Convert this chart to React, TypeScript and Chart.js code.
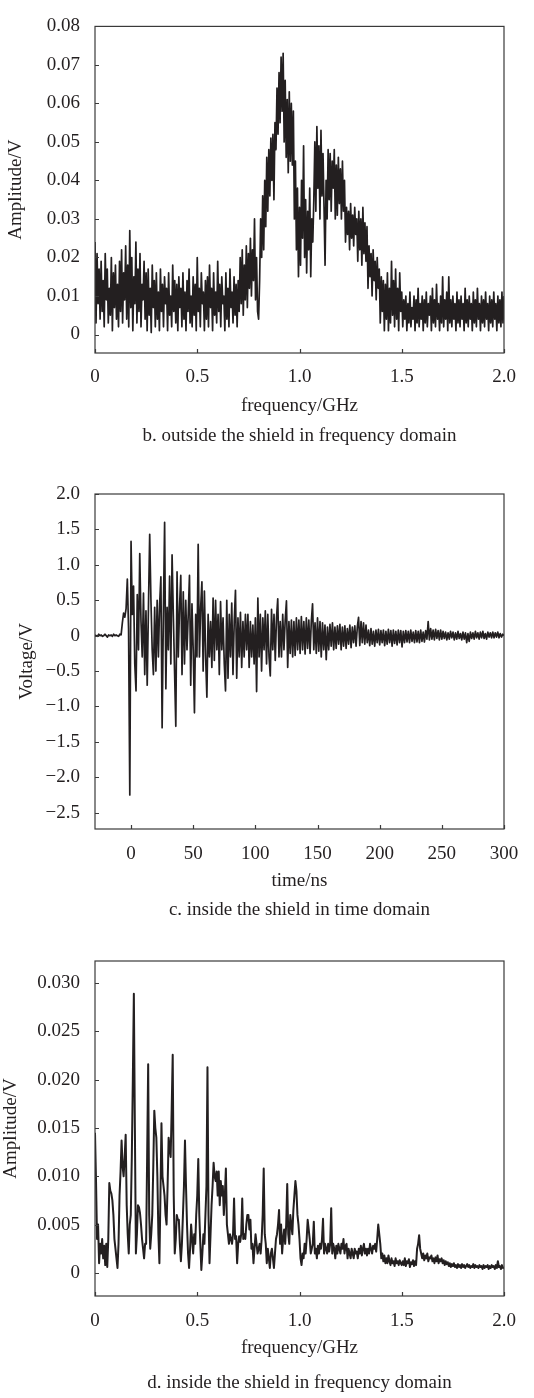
import React, { useEffect, useRef } from 'react';
import { Chart, registerables } from 'chart.js';

Chart.register(...registerables);

const FONT_FAMILY = '"Liberation Serif", "Times New Roman", serif';
const FONT_SIZE = 19;
const LINE_HEIGHT = 1.2;
const TEXT_COLOR = '#231f20';
const LINE_COLOR = '#231f20';

// ---------- Panel b: outside the shield, frequency domain ----------
const bFreqStepGHz = 0.005;
const bAmplitude_mV = [
  24, 3, 21, 8, 17,
  4, 19, 6, 14, 2, 21, 9, 17, 3, 12, 5, 20, 1, 16, 7, 18, 4, 13, 2, 19,
  6, 22, 3, 16, 9, 23, 4, 18, 2, 27, 7,
  20, 1, 15, 8, 24, 3, 17, 6, 21, 2, 13, 9, 19, 4, 16,
  1, 17, 5, 12, 0.5, 18, 7, 14, 2, 16, 4, 11, 1, 17, 6, 13, 2, 15, 8, 12, 1, 16, 5, 10, 2, 18, 6, 14, 3, 13,
  1, 15, 7, 12, 2, 16, 4, 11, 1, 14, 6, 17, 3, 10, 2, 15, 5, 13, 1, 20,
  6, 12, 2, 16, 8, 11, 1, 14, 4, 15, 2, 18, 7, 12, 1, 16, 5, 11, 3, 19,
  6, 13, 2, 15, 8, 10, 1, 16, 4, 12, 2, 17, 7, 11, 3, 15, 5, 13, 2, 14,
  6, 20, 8, 22, 5, 18, 9, 23, 7, 21,
  12, 25, 10, 22, 14, 30, 9, 20, 6, 4,
  14, 30, 20, 36, 22, 40, 28, 46, 32, 48,
  36, 51, 40, 52, 35, 55,
  48, 64, 52, 68, 55, 72, 58, 73,
  50, 66, 46, 61, 42, 63, 45, 60,
  44, 58, 30, 45, 22, 38, 15, 33,
  18, 40, 25, 49, 20, 35,
  16, 32, 22, 38, 15, 30, 24,
  35, 50, 32, 54, 38, 49, 30, 53, 36, 47, 33,
  18, 40, 30, 48,
  35, 47, 32, 45, 38, 48, 30, 44,
  31, 46, 34, 43, 30, 45, 32, 40,
  24, 33, 26, 32, 22, 34, 25, 31, 23, 33, 26, 30,
  19, 32, 22, 30, 18, 33, 21, 29, 19, 28,
  12, 23, 15, 21, 10, 22, 14, 19, 9, 20, 12, 17,
  3, 15, 6, 14, 1, 13, 4, 16, 1, 12,
  3, 19, 5, 14, 2, 17, 4, 12, 1, 16, 6, 11,
  2, 9, 4, 10, 1, 8, 3, 11, 2, 7,
  4, 10, 1, 9, 3, 12, 2, 8, 4, 10,
  1, 9, 3, 11, 2, 8, 5, 10, 1, 12,
  3, 9, 2, 13, 4, 8, 1, 10, 3, 15,
  2, 9, 4, 11, 1, 15, 3, 9, 2, 10,
  4, 8, 1, 11, 3, 9, 2, 10, 4, 8,
  1, 12, 3, 9, 2, 10, 4, 8, 1, 11,
  3, 9, 2, 12, 4, 8, 1, 10, 3, 9,
  2, 11, 4, 8, 1, 10, 3, 9, 2, 11,
  4, 8, 1, 10, 3, 9, 2, 11, 3, 10,
];
const bXTicks = [0, 0.5, 1.0, 1.5, 2.0];
const bXTickLabels = ['0', '0.5', '1.0', '1.5', '2.0'];
const bYTicks = [0, 0.01, 0.02, 0.03, 0.04, 0.05, 0.06, 0.07, 0.08];
const bYTickLabels = ['0', '0.01', '0.02', '0.03', '0.04', '0.05', '0.06', '0.07', '0.08'];

// ---------- Panel c: inside the shield, time domain ----------
const cTimeStartNs = -29;
const cTimeStepNs = 1;
const cVoltage_V = [
  0.01, 0, -0.01, 0.02, 0, 0.01, -0.01, 0, 0.02, 0,
  -0.02, 0.01, 0, 0.01, -0.01, 0.02, 0, 0.01, 0, -0.01,
  0.02, 0.01, 0.18, 0.32, 0.26, 0.38, 0.8, 0.1, -2.25, 1.33,
  0.3, 0.7, -0.4, -0.78, 0.58, -0.2, 1.16, 0.2, -0.3, 0.6,
  -0.55, 0.35, -0.7, 0.4, 1.43, 0.5, -0.2, -0.55, 0.4, -0.5,
  0.5, -0.3, 0.45, 0.83, -1.3, 0.3, 1.6, -0.75, 0.4, -0.2,
  0.84, -0.4, 1.14, 0.3, -0.5, -1.28, 0.9, -0.3, 0.4, 0.85,
  -0.55, 0.62, -0.4, 0.5, -0.2, 0.3, 0.85, -0.7, 0.45, -0.2,
  -1.09, 0.3, -0.3, 1.29, -0.3, 0.4, 0.76, -0.5, 0.63, -0.3,
  -0.87, 0.3, -0.3, 0.2, -0.45, 0.53, -0.35, 0.5, -0.2, 0.3,
  -0.55, 0.48, -0.2, 0.25, -0.4, -0.78, 0.5, -0.6, 0.3, -0.3,
  0.46, -0.55, 0.2, 0.64, -0.6, 0.25, -0.3, 0.33, -0.45, 0.2,
  -0.3, 0.3, -0.2, 0.3, -0.45, 0.2, -0.3, 0.15, -0.4, 0.25,
  -0.79, 0.53, -0.3, 0.3, -0.5, 0.25, -0.2, 0.35, -0.4, 0.3,
  -0.3, -0.57, 0.37, -0.2, 0.3, -0.35, 0.25, 0.52, -0.3, 0.2,
  -0.3, 0.3, -0.2, 0.22, 0.49, -0.45, 0.2, -0.25, 0.22, -0.3,
  0.2, -0.28, 0.25, -0.2, 0.22, -0.25, 0.27, -0.2, 0.2, -0.26,
  0.25, -0.18, 0.22, -0.25, 0.2, 0.45, -0.2, 0.18, -0.25, 0.25,
  -0.22, 0.2, -0.3, 0.18, -0.2, 0.15, -0.34, 0.12, -0.2, 0.16,
  -0.15, 0.18, -0.2, 0.12, -0.18, 0.14, -0.12, 0.16, -0.2, 0.12,
  -0.15, 0.14, -0.18, 0.1, -0.12, 0.15, -0.17, 0.12, -0.1, 0.14,
  -0.15, 0.12, 0.26, -0.14, 0.2, -0.1, 0.18, -0.12, 0.15, -0.1,
  0.08, -0.14, 0.1, -0.12, 0.06, -0.15, 0.08, -0.1, 0.09, -0.13,
  0.07, -0.1, 0.08, -0.14, 0.06, -0.12, 0.09, -0.1, 0.07, -0.15,
  0.08, -0.11, 0.06, -0.13, 0.08, -0.1, 0.07, -0.16, 0.06, -0.1,
  0.07, -0.09, 0.06, -0.1, 0.08, -0.08, 0.05, -0.1, 0.07, -0.09,
  0.06, -0.1, 0.08, -0.08, 0.05, -0.09, 0.07, -0.05, 0.2, -0.06,
  0.1, -0.05, 0.08, -0.06, 0.09, -0.04, 0.07, -0.06, 0.08, -0.05,
  0.06, -0.04, 0.05, -0.06, 0.04, -0.05, 0.06, -0.03, 0.05, -0.06,
  0.04, -0.05, 0.06, -0.04, 0.03, -0.06, 0.05, -0.05, 0.04, -0.1,
  0.03, -0.08, 0.05, -0.04, 0.04, -0.05, 0.06, -0.03, 0.04, -0.05,
  0.05, -0.03, 0.06, -0.04, 0.03, -0.05, 0.05, -0.02, 0.04, -0.03,
  0.05, -0.03, 0.04, -0.02, 0.05, -0.03, 0.03, -0.02, 0.02, 0,
];
const cXTicks = [0, 50, 100, 150, 200, 250, 300];
const cXTickLabels = ['0', '50', '100', '150', '200', '250', '300'];
const cYTicks = [-2.5, -2.0, -1.5, -1.0, -0.5, 0, 0.5, 1.0, 1.5, 2.0];
const cYTickLabels = ['\u22122.5', '\u22122.0', '\u22121.5', '\u22121.0', '\u22120.5', '0', '0.5', '1.0', '1.5', '2.0'];

// ---------- Panel d: inside the shield, frequency domain ----------
const dFreqStepGHz = 0.005;
const dAmplitude_mV = [
  14.5, 9.5, 3.5, 5, 1, 3, 2, 3.5, 1.5, 2.8,
  0.8, 3, 0.6, 3.5, 9.3, 8.5, 8.2, 7.5, 6, 3.5,
  2.5, 1.5, 0.5, 3, 8, 10.5, 13.7, 11, 10, 12,
  14.3, 7, 4, 2, 5, 6, 12, 20, 28.9, 15,
  2, 4, 7, 6.8, 6.2, 5, 3.5, 2.5, 1.5, 3,
  3, 12, 21.6, 6, 2.5, 4, 6, 11, 16.8, 15,
  14, 10, 4, 1, 8, 15.5, 10, 9, 8, 6,
  5, 9, 14, 13, 12, 17, 22.6, 8, 2, 3.5,
  6, 5.5, 5.5, 3, 1.2, 3, 6, 9, 13.7, 9,
  5, 2, 0.5, 2.5, 5, 3.5, 2, 4, 3, 6,
  8, 11.8, 6, 3, 0.3, 2, 4, 3, 6, 9,
  21.3, 6, 1, 4, 7, 9, 11.4, 10, 9.5, 10.5,
  8, 10.5, 7, 9.5, 8, 9, 6, 8, 10.8, 5,
  4, 3, 4, 3.5, 3, 4, 7.7, 3.5, 3.8, 1,
  3, 3.8, 3.2, 4, 7.7, 3.5, 4, 3.5, 5, 6,
  6, 4.5, 5.5, 2.5, 3, 1, 2.5, 4, 3, 2,
  2.5, 3, 2, 3.5, 6, 10.8, 4, 3, 1, 2.5,
  1.5, 0.5, 2, 2.5, 1.5, 0.5, 2, 3.5, 4, 5,
  6.5, 3, 5, 2, 3.5, 4.5, 3, 5, 9.2, 4,
  3, 6, 5, 4, 6.5, 8, 9.5, 8.5, 6, 5,
  3.5, 1.5, 0.8, 2, 1.5, 3, 2, 3.5, 5.5, 4.5,
  3.5, 2, 2.5, 3, 5.3, 2, 2.5, 1.5, 2.8, 2,
  3, 2.5, 3.5, 5.6, 2, 3, 2.5, 2, 3, 2.2,
  3, 6.7, 2, 3, 2.5, 1.5, 2.8, 2, 3, 2.5,
  2, 3, 2.5, 3.5, 2, 2.8, 3, 1.5, 2.5, 2,
  1.5, 2.5, 2, 1.5, 2.5, 2, 2.2, 1.5, 2.5, 2,
  2.8, 1.8, 2.5, 3, 2, 2.5, 1.8, 2.5, 2, 3,
  2.5, 2, 2.8, 2.5, 3, 2.2, 3.5, 5, 4, 3,
  1.5, 2, 1.2, 1.8, 1, 1.5, 1, 1.8, 1.2, 0.8,
  1.5, 1, 1.2, 0.7, 1.5, 1, 1.2, 0.8, 1.3, 1,
  0.8, 1.2, 0.8, 1.5, 0.7, 1.2, 1, 1.4, 0.6, 1.1,
  0.9, 1.3, 0.7, 1.2, 0.8, 2.5, 3, 3.9, 2.5, 2,
  1.5, 2, 1.3, 1.8, 1.5, 2, 1.2, 1.6, 1.5, 1.8,
  1.2, 1.5, 1, 1.6, 1.2, 1.8, 1, 1.4, 1.2, 1.5,
  1, 1.3, 0.8, 1.2, 0.9, 1.1, 0.7, 1, 0.6, 0.9,
  0.7, 1, 0.6, 0.8, 0.5, 0.9, 0.6, 0.8, 0.5, 0.9,
  0.6, 0.8, 0.5, 0.7, 0.9, 0.6, 0.8, 0.5, 0.7, 0.6,
  0.9, 0.5, 0.8, 0.6, 0.7, 0.5, 0.8, 0.6, 0.7, 0.4,
  0.8, 0.5, 0.7, 0.6, 0.8, 0.4, 0.7, 0.5, 0.8, 0.6,
  0.7, 0.4, 0.8, 0.5, 1.2, 0.6, 0.7, 0.4, 0.8, 0.5,
  0.6,
];
const dXTicks = [0, 0.5, 1.0, 1.5, 2.0];
const dXTickLabels = ['0', '0.5', '1.0', '1.5', '2.0'];
const dYTicks = [0, 0.005, 0.01, 0.015, 0.02, 0.025, 0.03];
const dYTickLabels = ['0', '0.005', '0.010', '0.015', '0.020', '0.025', '0.030'];

// ---------- chart building ----------
type Pt = { x: number; y: number };

type PanelSpec = {
  id: string;
  height: number;
  plotTop: number;
  plotBottom: number;
  tickLabelY: number;
  xTitleY: number;
  captionY: number;
  yTitlePad: number;
  lineWidth: number;
  points: Pt[];
  xMin: number;
  xMax: number;
  yMin: number;
  yMax: number;
  xTicks: number[];
  xTickLabels: string[];
  yTicks: number[];
  yTickLabels: string[];
  xTitle: string;
  yTitle: string;
  caption: string;
};

const framePlugin = {
  id: 'frameAndInnerTicks',
  afterDraw(chart: any) {
    const { ctx, chartArea: a, scales } = chart;
    ctx.save();
    ctx.strokeStyle = '#3a3a3a';
    ctx.lineWidth = 1.2;
    ctx.strokeRect(a.left, a.top, a.right - a.left, a.bottom - a.top);
    ctx.beginPath();
    const xs = scales.x;
    xs.ticks.forEach((t: any) => {
      const px = Math.round(xs.getPixelForValue(t.value)) + 0.5;
      ctx.moveTo(px, a.bottom);
      ctx.lineTo(px, a.bottom - 4);
    });
    const ys = scales.y;
    ys.ticks.forEach((t: any) => {
      const py = Math.round(ys.getPixelForValue(t.value)) + 0.5;
      ctx.moveTo(a.left, py);
      ctx.lineTo(a.left + 4, py);
    });
    ctx.stroke();
    ctx.restore();
  },
};

function buildConfig(p: PanelSpec): any {
  const lh = FONT_SIZE * LINE_HEIGHT;
  const capPadBottom = p.height - p.captionY - lh / 2;
  const capBoxTop = p.captionY - lh / 2;
  const xAxisH = capBoxTop - p.plotBottom;
  const tickPad = p.tickLabelY - p.plotBottom - lh / 2;
  const xTitlePadBottom = capBoxTop - p.xTitleY - lh / 2;
  const font = { family: FONT_FAMILY, size: FONT_SIZE, lineHeight: LINE_HEIGHT };
  return {
    type: 'line',
    data: {
      datasets: [
        {
          data: p.points,
          borderColor: LINE_COLOR,
          borderWidth: p.lineWidth,
          borderJoinStyle: 'round',
          pointRadius: 0,
          tension: 0,
          fill: false,
        },
      ],
    },
    plugins: [framePlugin],
    options: {
      responsive: false,
      animation: false,
      parsing: false,
      normalized: true,
      layout: { padding: { top: p.plotTop, right: 30, left: 0, bottom: 0 } },
      plugins: {
        legend: { display: false },
        tooltip: { enabled: false },
        title: {
          display: true,
          position: 'bottom',
          fullSize: false,
          text: p.caption,
          font: { ...font, weight: 'normal' },
          color: TEXT_COLOR,
          padding: { top: 0, bottom: capPadBottom },
        },
      },
      scales: {
        x: {
          type: 'linear',
          position: 'bottom',
          min: p.xMin,
          max: p.xMax,
          afterBuildTicks: (s: any) => {
            s.ticks = p.xTicks.map((v) => ({ value: v }));
          },
          afterFit: (s: any) => {
            s.height = xAxisH;
          },
          grid: { display: false, drawTicks: false },
          border: { display: false },
          ticks: {
            autoSkip: false,
            maxRotation: 0,
            minRotation: 0,
            padding: tickPad,
            font,
            color: TEXT_COLOR,
            callback: (_v: any, i: number) => p.xTickLabels[i],
          },
          title: {
            display: true,
            text: p.xTitle,
            font,
            color: TEXT_COLOR,
            padding: { top: 0, bottom: xTitlePadBottom },
          },
        },
        y: {
          type: 'linear',
          position: 'left',
          min: p.yMin,
          max: p.yMax,
          afterBuildTicks: (s: any) => {
            s.ticks = p.yTicks.map((v) => ({ value: v }));
          },
          afterFit: (s: any) => {
            s.width = 95;
          },
          grid: { display: false, drawTicks: false },
          border: { display: false },
          ticks: {
            autoSkip: false,
            padding: 15,
            font,
            color: TEXT_COLOR,
            callback: (_v: any, i: number) => p.yTickLabels[i],
          },
          title: {
            display: true,
            text: p.yTitle,
            font,
            color: TEXT_COLOR,
            padding: { top: p.yTitlePad, bottom: 0 },
          },
        },
      },
    },
  };
}

const panels: PanelSpec[] = [
  {
    id: 'b',
    height: 455,
    plotTop: 15,
    plotBottom: 353,
    tickLabelY: 377.5,
    xTitleY: 406,
    captionY: 436,
    yTitlePad: 4.6,
    lineWidth: 1.7,
    points: bAmplitude_mV.map((v, i) => ({ x: i * bFreqStepGHz, y: v / 1000 })),
    xMin: 0,
    xMax: 2.0,
    yMin: -0.0048,
    yMax: 0.08,
    xTicks: bXTicks,
    xTickLabels: bXTickLabels,
    yTicks: bYTicks,
    yTickLabels: bYTickLabels,
    xTitle: 'frequency/GHz',
    yTitle: 'Amplitude/V',
    caption: 'b. outside the shield in frequency domain',
  },
  {
    id: 'c',
    height: 470,
    plotTop: 39,
    plotBottom: 374,
    tickLabelY: 399,
    xTitleY: 426,
    captionY: 455,
    yTitlePad: 15.6,
    lineWidth: 1.7,
    points: cVoltage_V.map((v, i) => ({ x: cTimeStartNs + i * cTimeStepNs, y: v })),
    xMin: -29,
    xMax: 300,
    yMin: -2.73,
    yMax: 2.0,
    xTicks: cXTicks,
    xTickLabels: cXTickLabels,
    yTicks: cYTicks,
    yTickLabels: cYTickLabels,
    xTitle: 'time/ns',
    yTitle: 'Voltage/V',
    caption: 'c. inside the shield in time domain',
  },
  {
    id: 'd',
    height: 473,
    plotTop: 36,
    plotBottom: 371,
    tickLabelY: 396.5,
    xTitleY: 423.5,
    captionY: 458,
    yTitlePad: 0,
    lineWidth: 2.0,
    points: dAmplitude_mV.map((v, i) => ({ x: i * dFreqStepGHz, y: v / 1000 })),
    xMin: 0,
    xMax: 2.0,
    yMin: -0.0024,
    yMax: 0.0323,
    xTicks: dXTicks,
    xTickLabels: dXTickLabels,
    yTicks: dYTicks,
    yTickLabels: dYTickLabels,
    xTitle: 'frequency/GHz',
    yTitle: 'Amplitude/V',
    caption: 'd. inside the shield in frequency domain',
  },
];

function Panel({ spec }: { spec: PanelSpec }) {
  const ref = useRef<HTMLCanvasElement>(null);
  useEffect(() => {
    const canvas = ref.current;
    if (!canvas) return;
    const chart = new Chart(canvas, buildConfig(spec));
    return () => {
      chart.destroy();
    };
  }, [spec]);
  return (
    <canvas
      ref={ref}
      width={534}
      height={spec.height}
      style={{ display: 'block', width: 534, height: spec.height }}
    />
  );
}

export default function App() {
  return (
    <div style={{ position: 'absolute', left: 0, top: 0, width: 534, background: '#ffffff' }}>
      {panels.map((p) => (
        <Panel key={p.id} spec={p} />
      ))}
    </div>
  );
}
